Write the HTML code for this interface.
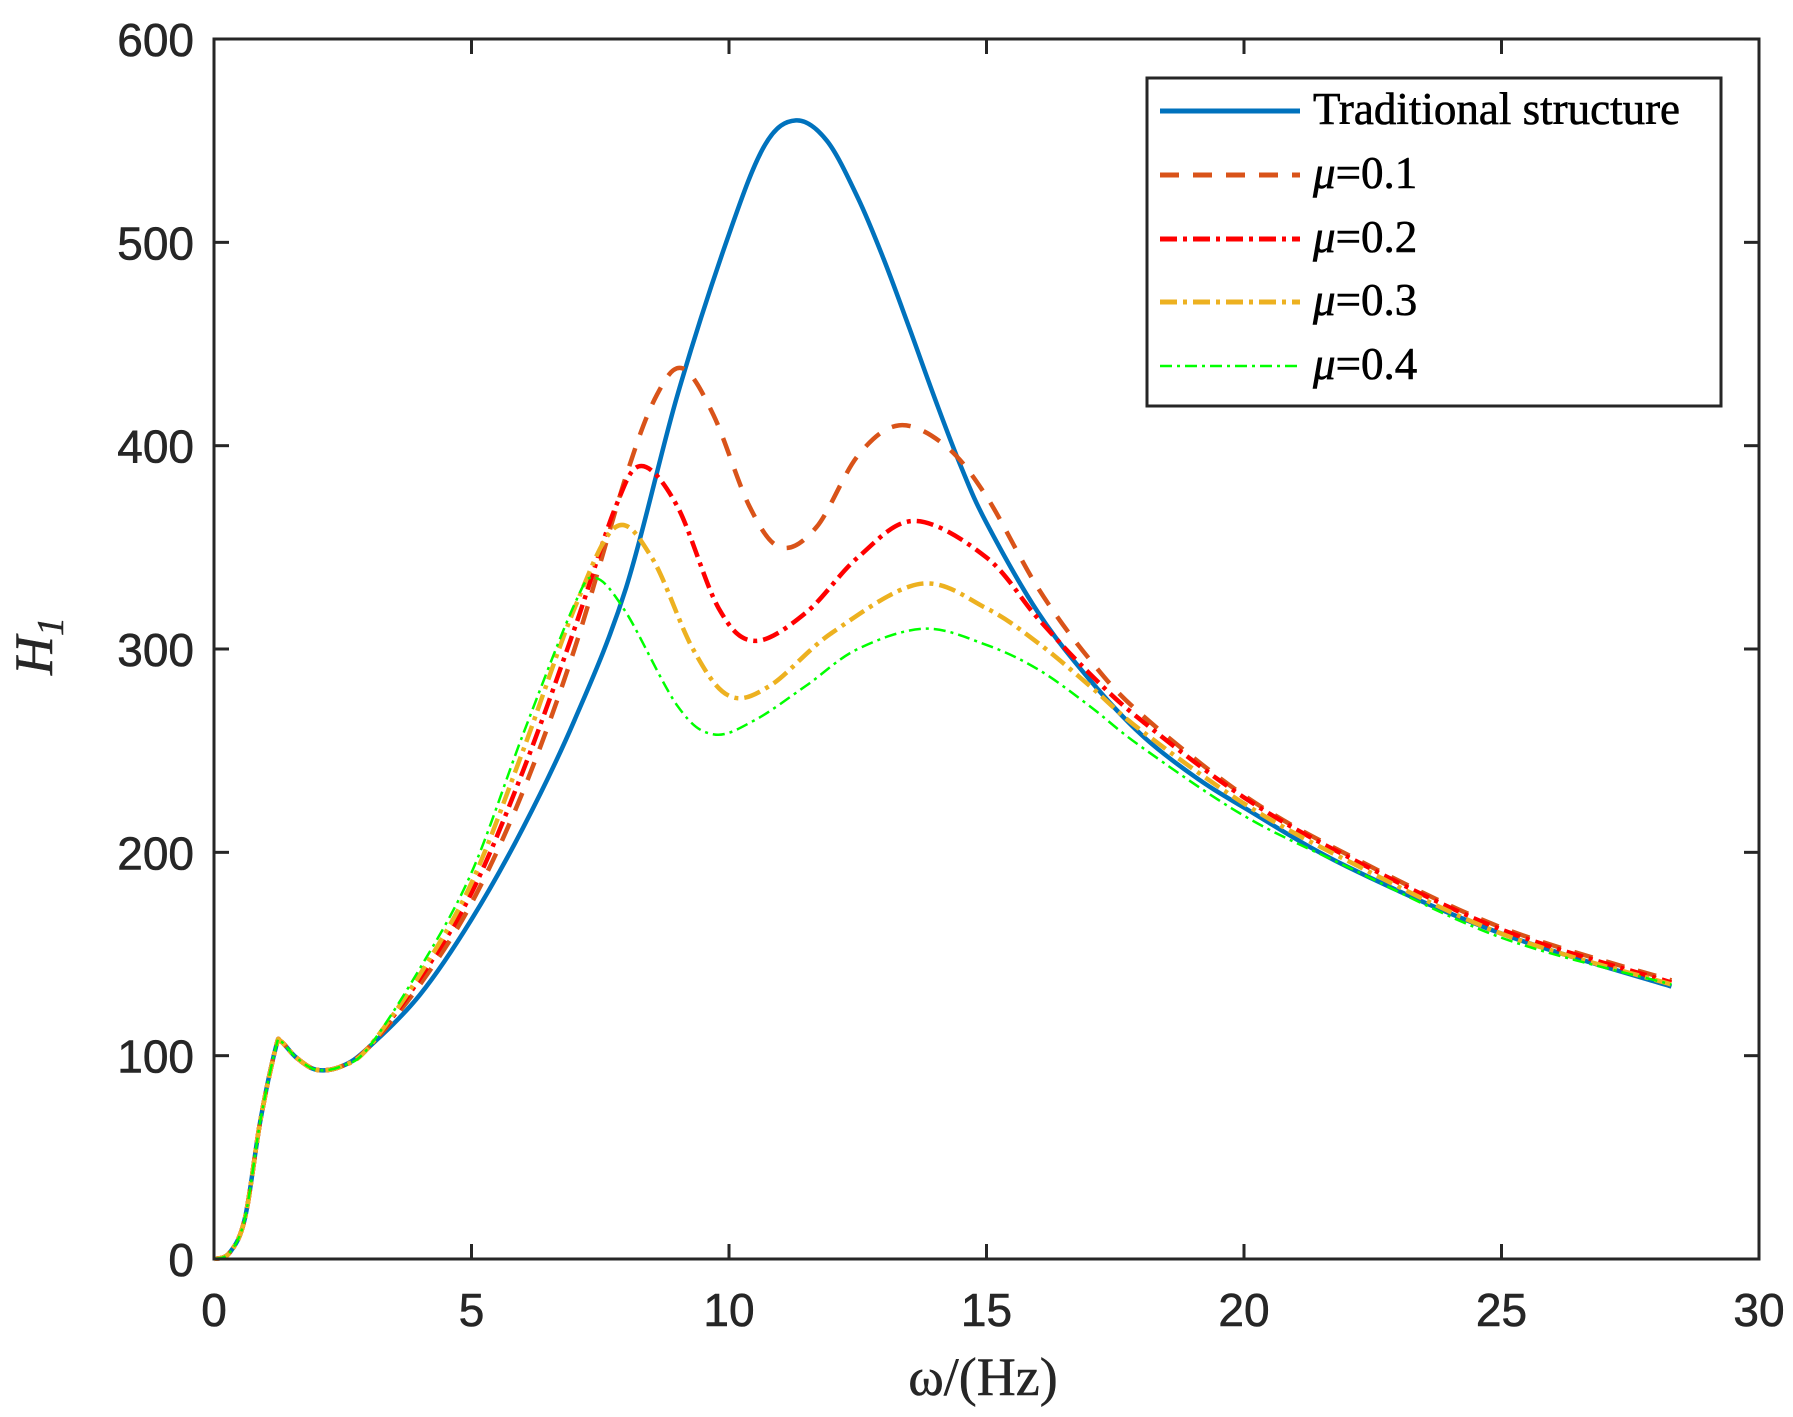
<!DOCTYPE html>
<html><head><meta charset="utf-8"><style>html,body{margin:0;padding:0;background:#fff}svg{display:block}</style></head>
<body>
<svg id="s" width="1793" height="1417" viewBox="0 0 1793 1417" xmlns="http://www.w3.org/2000/svg">
<rect width="1793" height="1417" fill="#fff"/>
<g id="curves"></g>
<g id="axes" stroke="#262626" stroke-width="3" fill="none"><rect x="214" y="39" width="1545" height="1220"/></g>
<g id="ticks" stroke="#262626" stroke-width="3"></g>
<g id="labels" font-family="Liberation Sans, sans-serif" font-size="46" fill="#262626" stroke="#262626" stroke-width="0.6"></g>
<text x="983" y="1395" text-anchor="middle" font-family="Liberation Serif, serif" font-size="54" fill="#262626" stroke="#262626" stroke-width="0.5">ω/(Hz)</text>
<text transform="translate(52,646) rotate(-90)" text-anchor="middle" font-family="Liberation Serif, serif" font-style="italic" font-size="54" fill="#262626" stroke="#262626" stroke-width="0.5">H<tspan font-size="38" dy="11">1</tspan></text>
<g>
<rect x="1147" y="78" width="574" height="328" fill="#fff" stroke="#262626" stroke-width="3"/>
<g font-family="Liberation Serif, serif" font-size="45" fill="#000" stroke="#000" stroke-width="0.6">
<text x="1313" y="124">Traditional structure</text>
<text x="1313" y="188"><tspan font-style="italic">μ</tspan>=0.1</text>
<text x="1313" y="252"><tspan font-style="italic">μ</tspan>=0.2</text>
<text x="1313" y="315"><tspan font-style="italic">μ</tspan>=0.3</text>
<text x="1313" y="379"><tspan font-style="italic">μ</tspan>=0.4</text>
</g>
<line x1="1160" y1="111" x2="1300" y2="111" stroke="#0072BD" stroke-width="5"/>
<line x1="1160" y1="175" x2="1300" y2="175" stroke="#D95319" stroke-width="5" stroke-dasharray="19,14"/>
<line x1="1160" y1="239" x2="1300" y2="239" stroke="#FF0000" stroke-width="5" stroke-dasharray="17,6,4,6"/>
<line x1="1160" y1="302" x2="1300" y2="302" stroke="#EDB120" stroke-width="5" stroke-dasharray="17,6,4,6"/>
<line x1="1160" y1="366" x2="1300" y2="366" stroke="#00FF00" stroke-width="2.5" stroke-dasharray="12,5,3,5"/>
</g>
</svg>
<script>
var X=f=>214+f*51.5, Y=h=>1259-h*2.0333;
var ns="http://www.w3.org/2000/svg";
var tk=document.getElementById('ticks'), lb=document.getElementById('labels');
function el(p,t,a,txt){var e=document.createElementNS(ns,t);for(var k in a)e.setAttribute(k,a[k]);if(txt!=null)e.textContent=txt;p.appendChild(e);return e;}
for(var i=0;i<=30;i+=5){var x=X(i);el(tk,'line',{x1:x,y1:1259,x2:x,y2:1244});el(tk,'line',{x1:x,y1:39,x2:x,y2:54});
 el(lb,'text',{x:x,y:1326,'text-anchor':'middle'},i);}
for(var h=0;h<=600;h+=100){var y=Y(h);el(tk,'line',{x1:214,y1:y,x2:229,y2:y});el(tk,'line',{x1:1759,y1:y,x2:1744,y2:y});
 el(lb,'text',{x:194,y:y+17,'text-anchor':'end'},h);}
var low=[[0,0],[0.3,3],[0.6,20],[0.9,68],[1.2,104],[1.3,107],[1.6,99],[2,93],[2.5,95],[3,104]];
var S=[
 {c:"#0072BD",w:4.5,d:null,p:[[4,130],[5,167],[6,212],[7,265],[8,330],[9,425],[10,504],[10.7,548],[11.3,560],[11.9,550],[12.5,522],[13,492],[13.5,458],[14,423],[14.5,390],[15,362],[16,318],[17,285],[18,258],[19,238],[20,222],[22,193],[25,160],[28.3,134]]},
 {c:"#D95319",w:4.5,d:"19,14",p:[[4,135],[5,175],[6,230],[7,300],[8,385],[8.6,425],[9.1,438],[9.7,415],[10.4,370],[11,350],[11.7,360],[12.5,395],[13.3,410],[14.2,400],[15,375],[16,330],[17,295],[18,268],[20,228],[22,199],[25,163],[28.3,137]]},
 {c:"#FF0000",w:4.5,d:"17,6,4,6",p:[[4,138],[5,180],[6,240],[7,310],[7.8,370],[8.3,390],[9,370],[9.8,320],[10.5,304],[11.5,318],[12.5,345],[13.6,363],[15,345],[16,315],[17,288],[18,265],[20,227],[22,198],[25,162],[28.3,136]]},
 {c:"#EDB120",w:4.5,d:"17,6,4,6",p:[[4,140],[5,185],[6,250],[7,320],[7.8,360],[8.5,345],[9.3,300],[10,277],[10.8,282],[12,308],[13.7,332],[15,320],[16,303],[17,282],[18,260],[20,224],[22,196],[25,160],[28.3,135]]},
 {c:"#00FF00",w:2.5,d:"12,5,3,5",p:[[4,143],[5,190],[6,258],[7,322],[7.4,335],[8,318],[9,272],[9.7,258],[10.5,265],[11.5,282],[12.5,300],[13.8,310],[15,302],[16,290],[17,272],[18,252],[20,218],[22,193],[25,158],[28.3,135]]}
];
var g=document.getElementById('curves');
S.forEach(function(s){var P=low.concat(s.p).map(q=>[X(q[0]),Y(q[1])]);var d="M"+P[0][0]+","+P[0][1];
 for(var i=0;i<P.length-1;i++){var p0=P[Math.max(i-1,0)],p1=P[i],p2=P[i+1],p3=P[Math.min(i+2,P.length-1)];
  d+=" C"+(p1[0]+(p2[0]-p0[0])/6)+","+(p1[1]+(p2[1]-p0[1])/6)+" "+(p2[0]-(p3[0]-p1[0])/6)+","+(p2[1]-(p3[1]-p1[1])/6)+" "+p2[0]+","+p2[1];}
 var a={d:d,fill:"none",stroke:s.c,"stroke-width":s.w};if(s.d)a["stroke-dasharray"]=s.d;el(g,'path',a);});
</script>
</body></html>
